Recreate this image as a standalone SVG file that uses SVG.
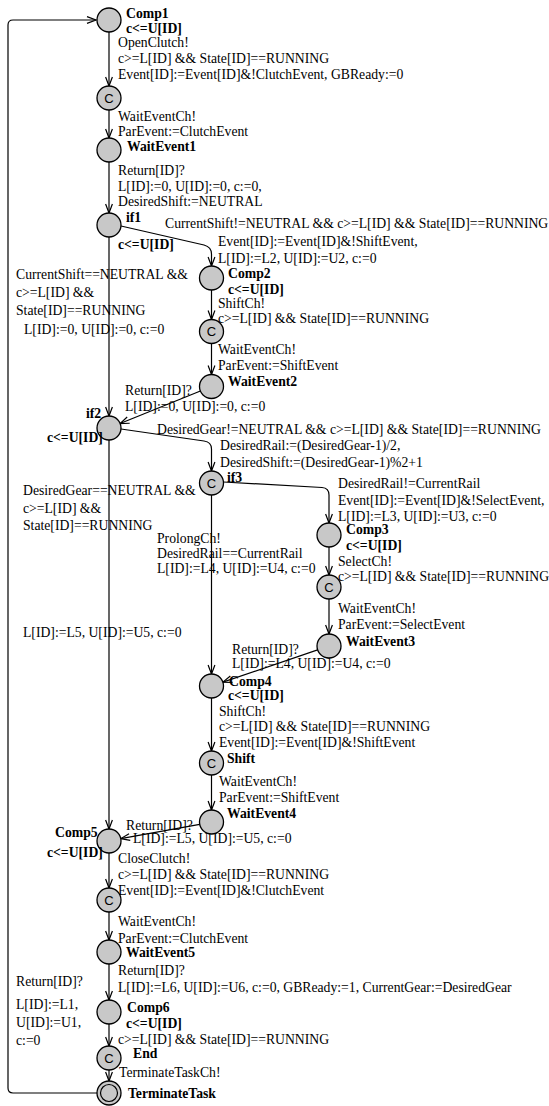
<svg xmlns="http://www.w3.org/2000/svg" width="549" height="1106" viewBox="0 0 549 1106">
<style>
text{font-family:"Liberation Serif","Times New Roman",serif;font-size:13.7px;fill:#000}
.b{font-weight:bold}
.c{font-family:"Liberation Sans",Arial,sans-serif;font-size:13px;text-anchor:middle}
.n{fill:#c8c8c8;stroke:#000;stroke-width:1.3}
.e{fill:none;stroke:#000;stroke-width:1.2}
.a{marker-end:url(#arr)}
</style>
<defs>
<marker id="arr" markerUnits="userSpaceOnUse" markerWidth="12" markerHeight="10" refX="10" refY="5" orient="auto">
<path d="M1,1.6 L10,5 L1,8.4" fill="none" stroke="#000" stroke-width="1.2"/>
</marker>
</defs>
<rect width="549" height="1106" fill="#fff"/>
<g id="connectors">
<path class="e a" d="M97,1093 L13,1093 Q8,1093 8,1088 L8,25 Q8,20 13,20 L96,20"/>
<path class="e a" d="M109,32 L109,86"/>
<path class="e a" d="M109,110 L109,138"/>
<path class="e a" d="M109,162 L109,213"/>
<path class="e a" d="M109,237 L109,416"/>
<path class="e a" d="M121,226 L204,245 Q211.5,247 211.5,254 L211.5,266"/>
<path class="e a" d="M211.5,290 L211.5,319.5"/>
<path class="e a" d="M211.5,343.5 L211.5,374.5"/>
<path class="e a" d="M200.4,391 L120.1,423.5"/>
<path class="e a" d="M121,429 L204,441 Q211.5,442 211.5,449 L211.5,471"/>
<path class="e a" d="M109,440 L109,829"/>
<path class="e a" d="M223.5,482 L322,487.5 Q329,488 329,495 L329,523"/>
<path class="e a" d="M211.5,495 L211.5,674"/>
<path class="e a" d="M329,547 L329,575"/>
<path class="e a" d="M329,599 L329,634"/>
<path class="e a" d="M317.6,649.9 L222.9,682.1"/>
<path class="e a" d="M211.5,698 L211.5,751"/>
<path class="e a" d="M211.5,775 L211.5,810"/>
<path class="e a" d="M199.7,824.4 L120.8,838.6"/>
<path class="e a" d="M109,853 L109,888"/>
<path class="e a" d="M109,912 L109,940"/>
<path class="e a" d="M109,964 L109,1000"/>
<path class="e a" d="M109,1024 L109,1046"/>
<path class="e a" d="M109,1070 L109,1081"/>
</g>
<g id="edge-labels">
<text x="118" y="47">OpenClutch!</text>
<text x="118" y="63">c&gt;=L[ID] &amp;&amp; State[ID]==RUNNING</text>
<text x="118" y="78.5">Event[ID]:=Event[ID]&amp;!ClutchEvent, GBReady:=0</text>
<text x="118" y="121">WaitEventCh!</text>
<text x="118" y="136">ParEvent:=ClutchEvent</text>
<text x="118" y="175">Return[ID]?</text>
<text x="118" y="190.5">L[ID]:=0, U[ID]:=0, c:=0,</text>
<text x="118" y="206">DesiredShift:=NEUTRAL</text>
<text x="165" y="228">CurrentShift!=NEUTRAL &amp;&amp; c&gt;=L[ID] &amp;&amp; State[ID]==RUNNING</text>
<text x="218" y="246">Event[ID]:=Event[ID]&amp;!ShiftEvent,</text>
<text x="218" y="263">L[ID]:=L2, U[ID]:=U2, c:=0</text>
<text x="16" y="279">CurrentShift==NEUTRAL &amp;&amp;</text>
<text x="16" y="297">c&gt;=L[ID] &amp;&amp;</text>
<text x="16" y="315">State[ID]==RUNNING</text>
<text x="24" y="334">L[ID]:=0, U[ID]:=0, c:=0</text>
<text x="218" y="307.5">ShiftCh!</text>
<text x="218" y="323">c&gt;=L[ID] &amp;&amp; State[ID]==RUNNING</text>
<text x="218" y="354">WaitEventCh!</text>
<text x="218" y="370">ParEvent:=ShiftEvent</text>
<text x="125" y="394.5">Return[ID]?</text>
<text x="125" y="411">L[ID]:=0, U[ID]:=0, c:=0</text>
<text x="157" y="434">DesiredGear!=NEUTRAL &amp;&amp; c&gt;=L[ID] &amp;&amp; State[ID]==RUNNING</text>
<text x="220" y="450">DesiredRail:=(DesiredGear-1)/2,</text>
<text x="220" y="466.5">DesiredShift:=(DesiredGear-1)%2+1</text>
<text x="23" y="495">DesiredGear==NEUTRAL &amp;&amp;</text>
<text x="23" y="512.5">c&gt;=L[ID] &amp;&amp;</text>
<text x="23" y="530">State[ID]==RUNNING</text>
<text x="23" y="637">L[ID]:=L5, U[ID]:=U5, c:=0</text>
<text x="338" y="487.5">DesiredRail!=CurrentRail</text>
<text x="338" y="504.5">Event[ID]:=Event[ID]&amp;!SelectEvent,</text>
<text x="338" y="521">L[ID]:=L3, U[ID]:=U3, c:=0</text>
<text x="157" y="543">ProlongCh!</text>
<text x="157" y="558">DesiredRail==CurrentRail</text>
<text x="157" y="573">L[ID]:=L4, U[ID]:=U4, c:=0</text>
<text x="338" y="566">SelectCh!</text>
<text x="338" y="581">c&gt;=L[ID] &amp;&amp; State[ID]==RUNNING</text>
<text x="338" y="612.5">WaitEventCh!</text>
<text x="338" y="629">ParEvent:=SelectEvent</text>
<text x="232" y="654">Return[ID]?</text>
<text x="232" y="668">L[ID]:=L4, U[ID]:=U4, c:=0</text>
<text x="219" y="715.5">ShiftCh!</text>
<text x="219" y="731">c&gt;=L[ID] &amp;&amp; State[ID]==RUNNING</text>
<text x="219" y="746.5">Event[ID]:=Event[ID]&amp;!ShiftEvent</text>
<text x="219" y="786">WaitEventCh!</text>
<text x="219" y="801.5">ParEvent:=ShiftEvent</text>
<text x="126" y="830">Return[ID]?</text>
<text x="133" y="843">L[ID]:=L5, U[ID]:=U5, c:=0</text>
<text x="118" y="863">CloseClutch!</text>
<text x="118" y="879">c&gt;=L[ID] &amp;&amp; State[ID]==RUNNING</text>
<text x="118" y="894.5">Event[ID]:=Event[ID]&amp;!ClutchEvent</text>
<text x="118" y="926">WaitEventCh!</text>
<text x="118" y="942.5">ParEvent:=ClutchEvent</text>
<text x="118" y="975">Return[ID]?</text>
<text x="118" y="992">L[ID]:=L6, U[ID]:=U6, c:=0, GBReady:=1, CurrentGear:=DesiredGear</text>
<text x="118" y="1043.5">c&gt;=L[ID] &amp;&amp; State[ID]==RUNNING</text>
<text x="119" y="1076.5">TerminateTaskCh!</text>
<text x="16" y="986">Return[ID]?</text>
<text x="16" y="1009">L[ID]:=L1,</text>
<text x="16" y="1027">U[ID]:=U1,</text>
<text x="16" y="1045">c:=0</text>
</g>
<g id="Comp1"><circle class="n" cx="109" cy="20" r="12"/><text class="b" x="126" y="18">Comp1</text><text class="b" x="126" y="33">c&lt;=U[ID]</text></g>
<g id="C1"><circle class="n" cx="109" cy="98" r="12"/><text class="c" x="109" y="102.5">C</text></g>
<g id="WaitEvent1"><circle class="n" cx="109" cy="150" r="12"/><text class="b" x="127" y="151">WaitEvent1</text></g>
<g id="if1"><circle class="n" cx="109" cy="225" r="12"/><text class="b" x="126" y="222">if1</text><text class="b" x="118" y="249">c&lt;=U[ID]</text></g>
<g id="Comp2"><circle class="n" cx="211.5" cy="278" r="12"/><text class="b" x="228" y="277.5">Comp2</text><text class="b" x="228" y="293.5">c&lt;=U[ID]</text></g>
<g id="C2"><circle class="n" cx="211.5" cy="331.5" r="12"/><text class="c" x="211.5" y="336">C</text></g>
<g id="WaitEvent2"><circle class="n" cx="211.5" cy="386.5" r="12"/><text class="b" x="228" y="386">WaitEvent2</text></g>
<g id="if2"><circle class="n" cx="109" cy="428" r="12"/><text class="b" x="86" y="418">if2</text><text class="b" x="47" y="441.5">c&lt;=U[ID]</text></g>
<g id="if3"><circle class="n" cx="211.5" cy="483" r="12"/><text class="c" x="211.5" y="487.5">C</text><text class="b" x="227" y="481.5">if3</text></g>
<g id="Comp3"><circle class="n" cx="329" cy="535" r="12"/><text class="b" x="346" y="534">Comp3</text><text class="b" x="346" y="550">c&lt;=U[ID]</text></g>
<g id="C3"><circle class="n" cx="329" cy="587" r="12"/><text class="c" x="329" y="591.5">C</text></g>
<g id="WaitEvent3"><circle class="n" cx="329" cy="646" r="12"/><text class="b" x="346" y="645.5">WaitEvent3</text></g>
<g id="Comp4"><circle class="n" cx="211.5" cy="686" r="12"/><text class="b" x="229" y="686">Comp4</text><text class="b" x="228" y="700">c&lt;=U[ID]</text></g>
<g id="Shift"><circle class="n" cx="211.5" cy="763" r="12"/><text class="c" x="211.5" y="767.5">C</text><text class="b" x="227" y="763">Shift</text></g>
<g id="WaitEvent4"><circle class="n" cx="211.5" cy="822" r="12"/><text class="b" x="227" y="818">WaitEvent4</text></g>
<g id="Comp5"><circle class="n" cx="109" cy="841" r="12"/><text class="b" x="55" y="837">Comp5</text><text class="b" x="47" y="857">c&lt;=U[ID]</text></g>
<g id="C5"><circle class="n" cx="109" cy="900" r="12"/><text class="c" x="109" y="904.5">C</text></g>
<g id="WaitEvent5"><circle class="n" cx="109" cy="952" r="12"/><text class="b" x="126" y="957">WaitEvent5</text></g>
<g id="Comp6"><circle class="n" cx="109" cy="1012" r="12"/><text class="b" x="127" y="1011.5">Comp6</text><text class="b" x="126" y="1027.5">c&lt;=U[ID]</text></g>
<g id="End"><circle class="n" cx="109" cy="1058" r="12"/><text class="c" x="109" y="1062.5">C</text><text class="b" x="133" y="1057.5">End</text></g>
<g id="TerminateTask"><circle class="n" cx="109" cy="1093" r="12"/><circle cx="109" cy="1093" r="8.5" fill="none" stroke="#000" stroke-width="1.2"/><text class="b" x="128" y="1097.5">TerminateTask</text></g>
</svg>
